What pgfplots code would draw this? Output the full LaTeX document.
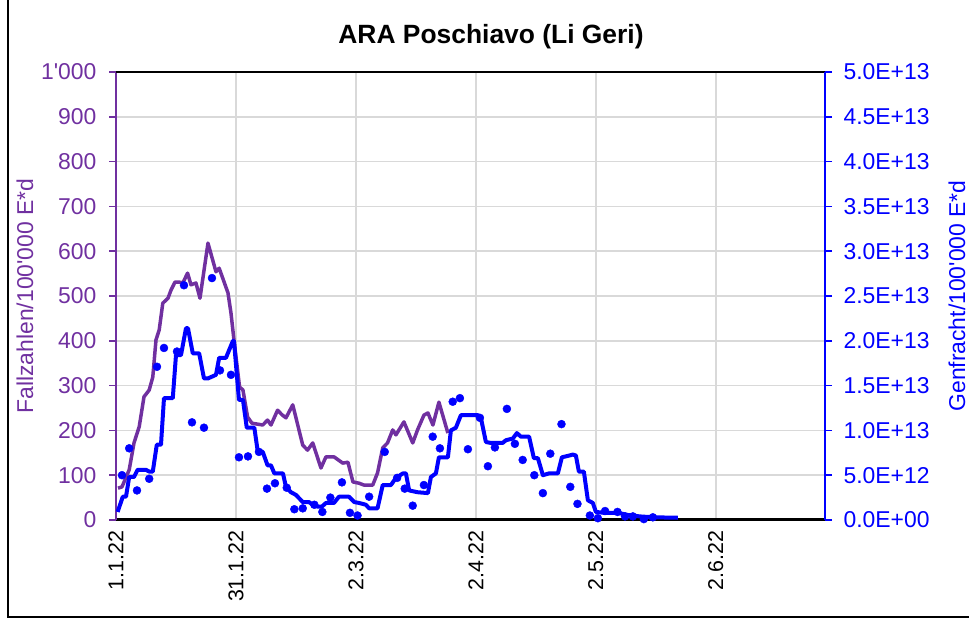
\documentclass[border=0pt]{standalone}
\usepackage{pgfplots}
\pgfplotsset{compat=1.18}
\usepackage{fontspec}
\setmainfont{Liberation Sans}[Ligatures=TeXOff]
\definecolor{excpurple}{RGB}{112,48,160}
\definecolor{gridgray}{RGB}{217,217,217}
\begin{document}
\begin{tikzpicture}[x=1bp,y=1bp]
\useasboundingbox (0,0) rectangle (969,619);
\draw[line width=1.5bp] (8,619) -- (8,2) -- (969,2);
\node[font=\fontsize{26.5}{31}\selectfont\bfseries] at (491,582) {ARA Poschiavo (Li Geri)};
\begin{axis}[
  at={(116bp,99bp)}, anchor=south west,
  width=709bp, height=448bp, scale only axis,
  xmin=0, xmax=177.3, ymin=0, ymax=1000,
  axis y line*=left, axis x line*=bottom,
  x axis line style={-, black, line width=3bp},
  y axis line style={-, excpurple, line width=2bp},
  xtick={0,30,60,90,120,150},
  xticklabels={1.1.22,31.1.22,2.3.22,2.4.22,2.5.22,2.6.22},
  xticklabel style={rotate=90, anchor=east, black, font=\fontsize{21.5}{25}\selectfont},
  major x tick style={draw=none},
  ytick={0,100,...,1000},
  yticklabels={0,100,200,300,400,500,600,700,800,900,1'000},
  yticklabel style={excpurple, font=\fontsize{23}{27}\selectfont, xshift=-9bp},
  major y tick style={excpurple, line width=1.5bp},
  tick align=outside, major tick length=7bp,
  xmajorgrids, ymajorgrids,
  grid style={gridgray, line width=1.5bp},
  ylabel={Fallzahlen/100'000 E*d},
  ylabel style={at={(axis description cs:-0.1283,0.5)}, anchor=center, excpurple, font=\fontsize{23}{27}\selectfont},
]
\draw[black, line width=2.5bp] (rel axis cs:0,1) -- (rel axis cs:1,1);
\addplot[excpurple, line width=3.5bp, line join=round, mark=none] coordinates {
(0.5,71) (1.5,74) (3.3,112) (4.5,172) (5.8,208) (7,275) (8.3,290) (9.2,319)
(10,402) (10.8,424) (11.7,484) (13,495) (13.75,513) (14.75,531) (15.8,531)
(16.7,529) (17.9,551) (18.75,525) (20,529) (21,495) (23,618) (25,554)
(25.8,562) (28,507) (28.75,462) (29.5,402) (30.9,297) (31.75,290) (32.9,230)
(34,216) (36.7,212) (37.9,223) (38.75,212) (40.4,245) (41.5,235) (42.5,228)
(44.2,257) (46.7,167) (47.9,156) (49.2,172) (51.25,116) (52.5,141) (54.5,141)
(56.7,127) (58,129) (59.25,85) (60.8,82) (62,78) (64.2,78) (65.4,105)
(66.7,161) (67.9,172) (69.2,201) (70,190) (72,219) (74.2,172) (75.4,201)
(77,234) (78,239) (79.25,212) (80.75,263) (83,194)
};
\end{axis}
\begin{axis}[
  at={(116bp,99bp)}, anchor=south west,
  width=709bp, height=448bp, scale only axis,
  xmin=0, xmax=177.3, ymin=0, ymax=5,
  axis y line*=right, axis x line=none,
  y axis line style={-, blue, line width=2.5bp},
  ytick={0,0.5,...,5},
  yticklabels={0.0E+00,5.0E+12,1.0E+13,1.5E+13,2.0E+13,2.5E+13,3.0E+13,3.5E+13,4.0E+13,4.5E+13,5.0E+13},
  yticklabel style={blue, font=\fontsize{23}{27}\selectfont, xshift=8bp},
  major y tick style={blue, line width=1.5bp},
  tick align=outside, major tick length=7bp,
  ylabel={Genfracht/100'000 E*d},
  ylabel style={at={(axis description cs:1.1862,0.5)}, anchor=center, blue, font=\fontsize{23}{27}\selectfont},
]
\addplot[blue, line width=4bp, line join=round, mark=none] coordinates {
(0.4,0.09) (1.7,0.26) (2.5,0.26) (3.3,0.48) (4.5,0.48) (5.4,0.56) (7.5,0.56)
(8.3,0.54) (9.2,0.54) (10.2,0.84) (11.25,0.84) (12,1.36) (14.2,1.36) (15,1.84)
(16.25,1.84) (17.5,2.14) (18,2.14) (19.2,1.86) (20.8,1.86) (22,1.58) (23,1.58)
(25,1.62) (25.8,1.81) (27.5,1.81) (29.25,2.0) (29.5,2.0) (30.75,1.34)
(31.75,1.34) (32.7,1.03) (34.6,1.03) (35.4,0.78) (36.7,0.76) (37.9,0.61)
(38.75,0.61) (39.6,0.52) (41.75,0.52) (42.5,0.37) (43.75,0.31) (45,0.28)
(46.7,0.20) (48.25,0.20) (49.2,0.17) (50.4,0.15) (51.5,0.15) (52.5,0.19)
(54.5,0.19) (55.75,0.26) (58.25,0.26) (59.6,0.20) (60.8,0.19) (62.5,0.17)
(63.3,0.13) (65.4,0.13) (66.7,0.39) (68.75,0.39) (70,0.47) (71.75,0.52)
(72.5,0.52) (73.3,0.33) (75.4,0.31) (78,0.30) (78.75,0.48) (80,0.52)
(80.75,0.70) (83,0.70) (83.75,1.0) (85,1.03) (86.25,1.17) (90.5,1.17)
(91.25,1.14) (92.5,0.87) (93.75,0.86) (96.7,0.86) (97.5,0.89) (99.25,0.91)
(100.25,0.97) (101.25,0.93) (103.3,0.93) (104.5,0.69) (105.5,0.69)
(106.75,0.50) (108.3,0.52) (110.5,0.52) (111.5,0.70) (112.5,0.71)
(114.25,0.73) (115,0.72) (115.75,0.54) (117,0.54) (118,0.22) (119.25,0.19)
(120,0.09) (122,0.08) (125.5,0.08) (128,0.056) (131,0.04) (134.5,0.03)
(140.5,0.025)
};
\addplot[only marks, mark=*, mark size=4bp, blue, mark options={draw=none, fill=blue}] coordinates {
(1.5,0.50) (3.3,0.80) (5.25,0.33) (8.3,0.46) (10.25,1.71) (12,1.92)
(15.25,1.88) (17,2.62) (19,1.09) (22,1.03) (24,2.70) (26,1.67) (28.75,1.62)
(30.75,0.70) (33,0.71) (35.75,0.76) (37.75,0.35) (39.75,0.41) (42.7,0.36)
(44.6,0.12) (46.7,0.13) (49.6,0.17) (51.6,0.09) (53.6,0.25) (56.5,0.42)
(58.5,0.08) (60.4,0.05) (63.3,0.26) (67.2,0.76) (70.3,0.47) (72.2,0.35)
(74.2,0.16) (77,0.39) (79.2,0.93) (81,0.80) (84.2,1.32) (86,1.36) (88,0.79)
(91,1.14) (93,0.60) (94.75,0.81) (97.75,1.24) (99.75,0.85) (101.7,0.67)
(104.6,0.50) (106.75,0.30) (108.6,0.74) (111.4,1.07) (113.6,0.37)
(115.4,0.18) (118.5,0.05) (120.5,0.02) (122.3,0.10) (125.4,0.09)
(127.3,0.04) (129.25,0.04) (132,0.01) (134.25,0.03)
};
\end{axis}
\end{tikzpicture}
\end{document}
